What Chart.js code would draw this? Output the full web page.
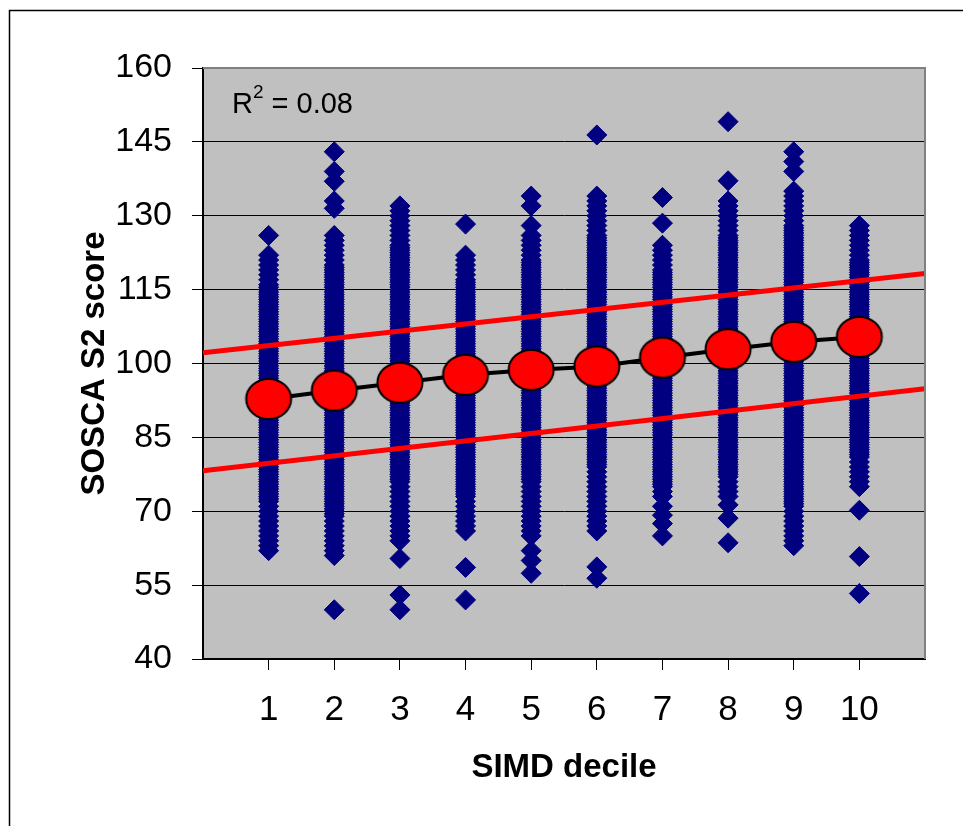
<!DOCTYPE html>
<html>
<head>
<meta charset="utf-8">
<script src="https://cdn.jsdelivr.net/npm/chart.js@4/dist/chart.umd.min.js"></script>
<style>
  html, body { margin: 0; padding: 0; background: #ffffff; }
  canvas { display: block; }
</style>
</head>
<body>
<canvas id="chart" width="963" height="826"></canvas>
<script>
// SIMD deciles on the x axis
const deciles = [1, 2, 3, 4, 5, 6, 7, 8, 9, 10];

// SOSCA S2 scores of pupils in each decile
const decile1 = [126, 122, 121, 120, 119, 118, 117, 116, 115.5, 115, 114.5, 114, 113.5, 113, 112.5, 112, 111.5, 111, 110.5, 110, 109.5, 109, 108.5, 108, 107.5, 107, 106.5, 106, 105.5, 105, 104.5, 104, 103.5, 103, 102.5, 102, 101.5, 101, 100.5, 100, 99.5, 99, 98.5, 98, 97.5, 97, 96.5, 96, 95.5, 95, 94.5, 94, 93.5, 93, 92.5, 92, 91.5, 91, 90.5, 90, 89.5, 89, 88.5, 88, 87.5, 87, 86.5, 86, 85.5, 85, 84.5, 84, 83.5, 83, 82.5, 82, 81.5, 81, 80.5, 80, 79.5, 79, 78.5, 78, 77.5, 77, 76.5, 76, 75.5, 75, 74.5, 74, 73.5, 73, 72.5, 72, 71, 70, 69, 68, 67, 66, 65, 64, 63, 62];
const decile2 = [143, 139, 137, 133, 131.5, 126, 125, 124, 123, 122, 121, 120, 119.5, 119, 118.5, 118, 117.5, 117, 116.5, 116, 115.5, 115, 114.5, 114, 113.5, 113, 112.5, 112, 111.5, 111, 110.5, 110, 109.5, 109, 108.5, 108, 107.5, 107, 106.5, 106, 105.5, 105, 104.5, 104, 103.5, 103, 102.5, 102, 101.5, 101, 100.5, 100, 99.5, 99, 98.5, 98, 97.5, 97, 96.5, 96, 95.5, 95, 94.5, 94, 93.5, 93, 92.5, 92, 91.5, 91, 90.5, 90, 89.5, 89, 88.5, 88, 87.5, 87, 86.5, 86, 85.5, 85, 84.5, 84, 83.5, 83, 82.5, 82, 81.5, 81, 80.5, 80, 79.5, 79, 78.5, 78, 77.5, 77, 76.5, 76, 75.5, 75, 74.5, 74, 73.5, 73, 72.5, 72, 71.5, 71, 70.5, 70, 69.5, 69, 68, 67, 66, 65, 64, 63, 62, 61, 50];
const decile3 = [132, 131, 130, 129, 128, 127, 126, 125, 124, 123.5, 123, 122.5, 122, 121.5, 121, 120.5, 120, 119.5, 119, 118.5, 118, 117.5, 117, 116.5, 116, 115.5, 115, 114.5, 114, 113.5, 113, 112.5, 112, 111.5, 111, 110.5, 110, 109.5, 109, 108.5, 108, 107.5, 107, 106.5, 106, 105.5, 105, 104.5, 104, 103.5, 103, 102.5, 102, 101.5, 101, 100.5, 100, 99.5, 99, 98.5, 98, 97.5, 97, 96.5, 96, 95.5, 95, 94.5, 94, 93.5, 93, 92.5, 92, 91.5, 91, 90.5, 90, 89.5, 89, 88.5, 88, 87.5, 87, 86.5, 86, 85.5, 85, 84.5, 84, 83.5, 83, 82.5, 82, 81.5, 81, 80.5, 80, 79.5, 79, 78.5, 78, 77.5, 77, 76.5, 76, 75, 74, 73, 72, 71, 70, 69, 68, 67, 66, 65, 64, 60.4, 53, 50];
const decile4 = [128.3, 122, 121, 120, 119, 118, 117, 116.5, 116, 115.5, 115, 114.5, 114, 113.5, 113, 112.5, 112, 111.5, 111, 110.5, 110, 109.5, 109, 108.5, 108, 107.5, 107, 106.5, 106, 105.5, 105, 104.5, 104, 103.5, 103, 102.5, 102, 101.5, 101, 100.5, 100, 99.5, 99, 98.5, 98, 97.5, 97, 96.5, 96, 95.5, 95, 94.5, 94, 93.5, 93, 92.5, 92, 91.5, 91, 90.5, 90, 89.5, 89, 88.5, 88, 87.5, 87, 86.5, 86, 85.5, 85, 84.5, 84, 83.5, 83, 82.5, 82, 81.5, 81, 80.5, 80, 79.5, 79, 78.5, 78, 77.5, 77, 76.5, 76, 75.5, 75, 74.5, 74, 73.5, 73, 72, 71, 70, 69, 68, 67, 66, 58.6, 52];
const decile5 = [134, 132, 128, 126, 125, 124, 123, 122, 121, 120.5, 120, 119.5, 119, 118.5, 118, 117.5, 117, 116.5, 116, 115.5, 115, 114.5, 114, 113.5, 113, 112.5, 112, 111.5, 111, 110.5, 110, 109.5, 109, 108.5, 108, 107.5, 107, 106.5, 106, 105.5, 105, 104.5, 104, 103.5, 103, 102.5, 102, 101.5, 101, 100.5, 100, 99.5, 99, 98.5, 98, 97.5, 97, 96.5, 96, 95.5, 95, 94.5, 94, 93.5, 93, 92.5, 92, 91.5, 91, 90.5, 90, 89.5, 89, 88.5, 88, 87.5, 87, 86.5, 86, 85.5, 85, 84.5, 84, 83.5, 83, 82.5, 82, 81.5, 81, 80.5, 80, 79.5, 79, 78.5, 78, 77.5, 77, 76.5, 76, 75, 74, 73, 72, 71, 70, 69, 68, 67, 66, 65, 62, 60, 57.4];
const decile6 = [146.4, 134, 133, 132, 131, 130, 129, 128, 127, 126, 125.5, 125, 124.5, 124, 123.5, 123, 122.5, 122, 121.5, 121, 120.5, 120, 119.5, 119, 118.5, 118, 117.5, 117, 116.5, 116, 115.5, 115, 114.5, 114, 113.5, 113, 112.5, 112, 111.5, 111, 110.5, 110, 109.5, 109, 108.5, 108, 107.5, 107, 106.5, 106, 105.5, 105, 104.5, 104, 103.5, 103, 102.5, 102, 101.5, 101, 100.5, 100, 99.5, 99, 98.5, 98, 97.5, 97, 96.5, 96, 95.5, 95, 94.5, 94, 93.5, 93, 92.5, 92, 91.5, 91, 90.5, 90, 89.5, 89, 88.5, 88, 87.5, 87, 86.5, 86, 85.5, 85, 84.5, 84, 83.5, 83, 82.5, 82, 81.5, 81, 80.5, 80, 79.5, 79, 78, 77, 76, 75, 74, 73, 72, 71, 70, 69, 68, 67, 66, 58.7, 56.4];
const decile7 = [133.7, 128.5, 124, 123, 122, 121, 120, 119, 118.5, 118, 117.5, 117, 116.5, 116, 115.5, 115, 114.5, 114, 113.5, 113, 112.5, 112, 111.5, 111, 110.5, 110, 109.5, 109, 108.5, 108, 107.5, 107, 106.5, 106, 105.5, 105, 104.5, 104, 103.5, 103, 102.5, 102, 101.5, 101, 100.5, 100, 99.5, 99, 98.5, 98, 97.5, 97, 96.5, 96, 95.5, 95, 94.5, 94, 93.5, 93, 92.5, 92, 91.5, 91, 90.5, 90, 89.5, 89, 88.5, 88, 87.5, 87, 86.5, 86, 85.5, 85, 84.5, 84, 83.5, 83, 82.5, 82, 81.5, 81, 80.5, 80, 79.5, 79, 78.5, 78, 77.5, 77, 76.5, 76, 75.5, 75, 74, 73, 71, 69.2, 67.5, 65];
const decile8 = [149.1, 137.1, 133, 132, 131, 130, 129, 128, 127, 126, 125.5, 125, 124.5, 124, 123.5, 123, 122.5, 122, 121.5, 121, 120.5, 120, 119.5, 119, 118.5, 118, 117.5, 117, 116.5, 116, 115.5, 115, 114.5, 114, 113.5, 113, 112.5, 112, 111.5, 111, 110.5, 110, 109.5, 109, 108.5, 108, 107.5, 107, 106.5, 106, 105.5, 105, 104.5, 104, 103.5, 103, 102.5, 102, 101.5, 101, 100.5, 100, 99.5, 99, 98.5, 98, 97.5, 97, 96.5, 96, 95.5, 95, 94.5, 94, 93.5, 93, 92.5, 92, 91.5, 91, 90.5, 90, 89.5, 89, 88.5, 88, 87.5, 87, 86.5, 86, 85.5, 85, 84.5, 84, 83.5, 83, 82.5, 82, 81.5, 81, 80.5, 80, 79.5, 79, 78.5, 78, 77.5, 77, 76, 75, 74, 73, 71.3, 68.6, 63.6];
const decile9 = [143, 141, 139, 135, 134, 133, 132, 131, 130, 129, 128, 127.5, 127, 126.5, 126, 125.5, 125, 124.5, 124, 123.5, 123, 122.5, 122, 121.5, 121, 120.5, 120, 119.5, 119, 118.5, 118, 117.5, 117, 116.5, 116, 115.5, 115, 114.5, 114, 113.5, 113, 112.5, 112, 111.5, 111, 110.5, 110, 109.5, 109, 108.5, 108, 107.5, 107, 106.5, 106, 105.5, 105, 104.5, 104, 103.5, 103, 102.5, 102, 101.5, 101, 100.5, 100, 99.5, 99, 98.5, 98, 97.5, 97, 96.5, 96, 95.5, 95, 94.5, 94, 93.5, 93, 92.5, 92, 91.5, 91, 90.5, 90, 89.5, 89, 88.5, 88, 87.5, 87, 86.5, 86, 85.5, 85, 84.5, 84, 83.5, 83, 82.5, 82, 81.5, 81, 80.5, 80, 79.5, 79, 78.5, 78, 77.5, 77, 76.5, 76, 75.5, 75, 74.5, 74, 73.5, 73, 72.5, 72, 71.5, 71, 70, 69, 68, 67, 66, 65, 64, 63];
const decile10 = [128, 127, 126, 125, 124, 123, 122, 121, 120.5, 120, 119.5, 119, 118.5, 118, 117.5, 117, 116.5, 116, 115.5, 115, 114.5, 114, 113.5, 113, 112.5, 112, 111.5, 111, 110.5, 110, 109.5, 109, 108.5, 108, 107.5, 107, 106.5, 106, 105.5, 105, 104.5, 104, 103.5, 103, 102.5, 102, 101.5, 101, 100.5, 100, 99.5, 99, 98.5, 98, 97.5, 97, 96.5, 96, 95.5, 95, 94.5, 94, 93.5, 93, 92.5, 92, 91.5, 91, 90.5, 90, 89.5, 89, 88.5, 88, 87.5, 87, 86.5, 86, 85.5, 85, 84.5, 84, 83.5, 83, 82.5, 82, 81.5, 81, 80, 79, 78, 77, 76, 75, 70.2, 60.8, 53.3];
const scoresByDecile = [decile1, decile2, decile3, decile4, decile5, decile6, decile7, decile8, decile9, decile10];

// Mean score of each decile
const meanScores = [92.8, 94.5, 96.1, 97.7, 98.7, 99.4, 101.2, 102.9, 104.4, 105.4];

// Upper and lower band lines, given at both ends of the x axis
const bandX = [0, 11];
const upperBand = [102.2, 118.3];
const lowerBand = [78.2, 94.9];

// Axis ticks
const yTicks = [40, 55, 70, 85, 100, 115, 130, 145, 160];
const xTicks = deciles;

const rSquared = '0.08';

const FONT = '"Liberation Sans", Arial, Helvetica, sans-serif';

// Red ellipse with a black outline for the decile means
function meanMarker() {
  const c = document.createElement('canvas');
  c.width = 50;
  c.height = 44;
  const g = c.getContext('2d');
  g.beginPath();
  g.ellipse(25, 22, 22.5, 20, 0, 0, Math.PI * 2);
  g.fillStyle = '#FF0000';
  g.fill();
  g.lineWidth = 2;
  g.strokeStyle = '#000000';
  g.stroke();
  return c;
}

const scorePoints = [];
scoresByDecile.forEach((scores, i) => {
  scores.forEach(s => scorePoints.push({ x: deciles[i], y: s }));
});
const meanPoints = meanScores.map((m, i) => ({ x: deciles[i], y: m }));
const upperPoints = bandX.map((x, i) => ({ x, y: upperBand[i] }));
const lowerPoints = bandX.map((x, i) => ({ x, y: lowerBand[i] }));

const framePlugin = {
  id: 'frame',
  beforeDraw(chart) {
    const { ctx, chartArea: a } = chart;
    ctx.save();
    ctx.fillStyle = '#ffffff';
    ctx.fillRect(0, 0, chart.width, chart.height);
    // outer frame
    ctx.strokeStyle = '#000000';
    ctx.lineWidth = 1.5;
    ctx.beginPath();
    ctx.moveTo(9.5, chart.height + 5);
    ctx.lineTo(9.5, 10.5);
    ctx.lineTo(chart.width + 5, 10.5);
    ctx.stroke();
    // plot area
    ctx.fillStyle = '#C0C0C0';
    ctx.fillRect(a.left, a.top, a.right - a.left, a.bottom - a.top);
    ctx.restore();
  },
  afterDraw(chart) {
    const { ctx, chartArea: a } = chart;
    ctx.save();
    ctx.strokeStyle = '#808080';
    ctx.lineWidth = 2;
    ctx.beginPath();
    ctx.moveTo(a.left, a.top);
    ctx.lineTo(a.right, a.top);
    ctx.lineTo(a.right, a.bottom);
    ctx.stroke();

    // R squared label
    ctx.fillStyle = '#000000';
    ctx.textBaseline = 'alphabetic';
    ctx.textAlign = 'left';
    let x = 232;
    ctx.font = '29px ' + FONT;
    ctx.fillText('R', x, 113);
    x += ctx.measureText('R').width;
    ctx.font = '19px ' + FONT;
    ctx.fillText('2', x, 98);
    x += ctx.measureText('2').width;
    ctx.font = '29px ' + FONT;
    ctx.fillText(' = ' + rSquared, x, 113);
    ctx.restore();
  }
};

new Chart(document.getElementById('chart'), {
  type: 'scatter',
  data: {
    datasets: [
      {
        label: 'Mean',
        data: meanPoints,
        showLine: true,
        borderColor: '#000000',
        borderWidth: 4,
        pointStyle: meanMarker(),
        order: 0
      },
      {
        label: 'Upper',
        data: upperPoints,
        showLine: true,
        borderColor: '#FF0000',
        borderWidth: 5,
        pointRadius: 0,
        order: 1
      },
      {
        label: 'Lower',
        data: lowerPoints,
        showLine: true,
        borderColor: '#FF0000',
        borderWidth: 5,
        pointRadius: 0,
        order: 1
      },
      {
        label: 'SOSCA S2 score',
        data: scorePoints,
        pointStyle: 'rectRot',
        pointRadius: 10,
        backgroundColor: '#000080',
        borderColor: '#000080',
        borderWidth: 1,
        order: 2
      }
    ]
  },
  options: {
    responsive: false,
    devicePixelRatio: 1,
    animation: false,
    events: [],
    layout: { padding: { top: 68, right: 38, left: 0, bottom: 0 } },
    plugins: {
      legend: { display: false },
      tooltip: { enabled: false }
    },
    scales: {
      x: {
        type: 'linear',
        min: 0,
        max: 11,
        afterBuildTicks: s => { s.ticks = xTicks.map(v => ({ value: v })); },
        afterFit: s => { s.height = 167; },
        ticks: {
          autoSkip: false,
          maxRotation: 0,
          padding: 19,
          color: '#000000',
          font: { family: FONT, size: 35 },
          callback: v => String(v)
        },
        grid: {
          drawOnChartArea: false,
          drawTicks: true,
          tickLength: 11,
          color: '#000000',
          lineWidth: 1
        },
        border: { display: true, color: '#000000', width: 2 },
        title: {
          display: true,
          text: 'SIMD decile',
          color: '#000000',
          font: { family: FONT, size: 33, weight: 'bold' },
          padding: { top: 0, bottom: 38 }
        }
      },
      y: {
        min: 40,
        max: 160,
        afterBuildTicks: s => { s.ticks = yTicks.map(v => ({ value: v })); },
        afterFit: s => { s.width = 203; },
        ticks: {
          padding: 20,
          color: '#000000',
          font: { family: FONT, size: 34 },
          callback: v => String(v)
        },
        grid: {
          drawTicks: true,
          tickLength: 11,
          color: '#000000',
          lineWidth: 1
        },
        border: { display: true, color: '#000000', width: 2 },
        title: {
          display: true,
          text: 'SOSCA S2 score',
          color: '#000000',
          font: { family: FONT, size: 33, weight: 'bold' },
          padding: { top: 75, bottom: 0 }
        }
      }
    }
  },
  plugins: [framePlugin]
});
</script>
</body>
</html>
